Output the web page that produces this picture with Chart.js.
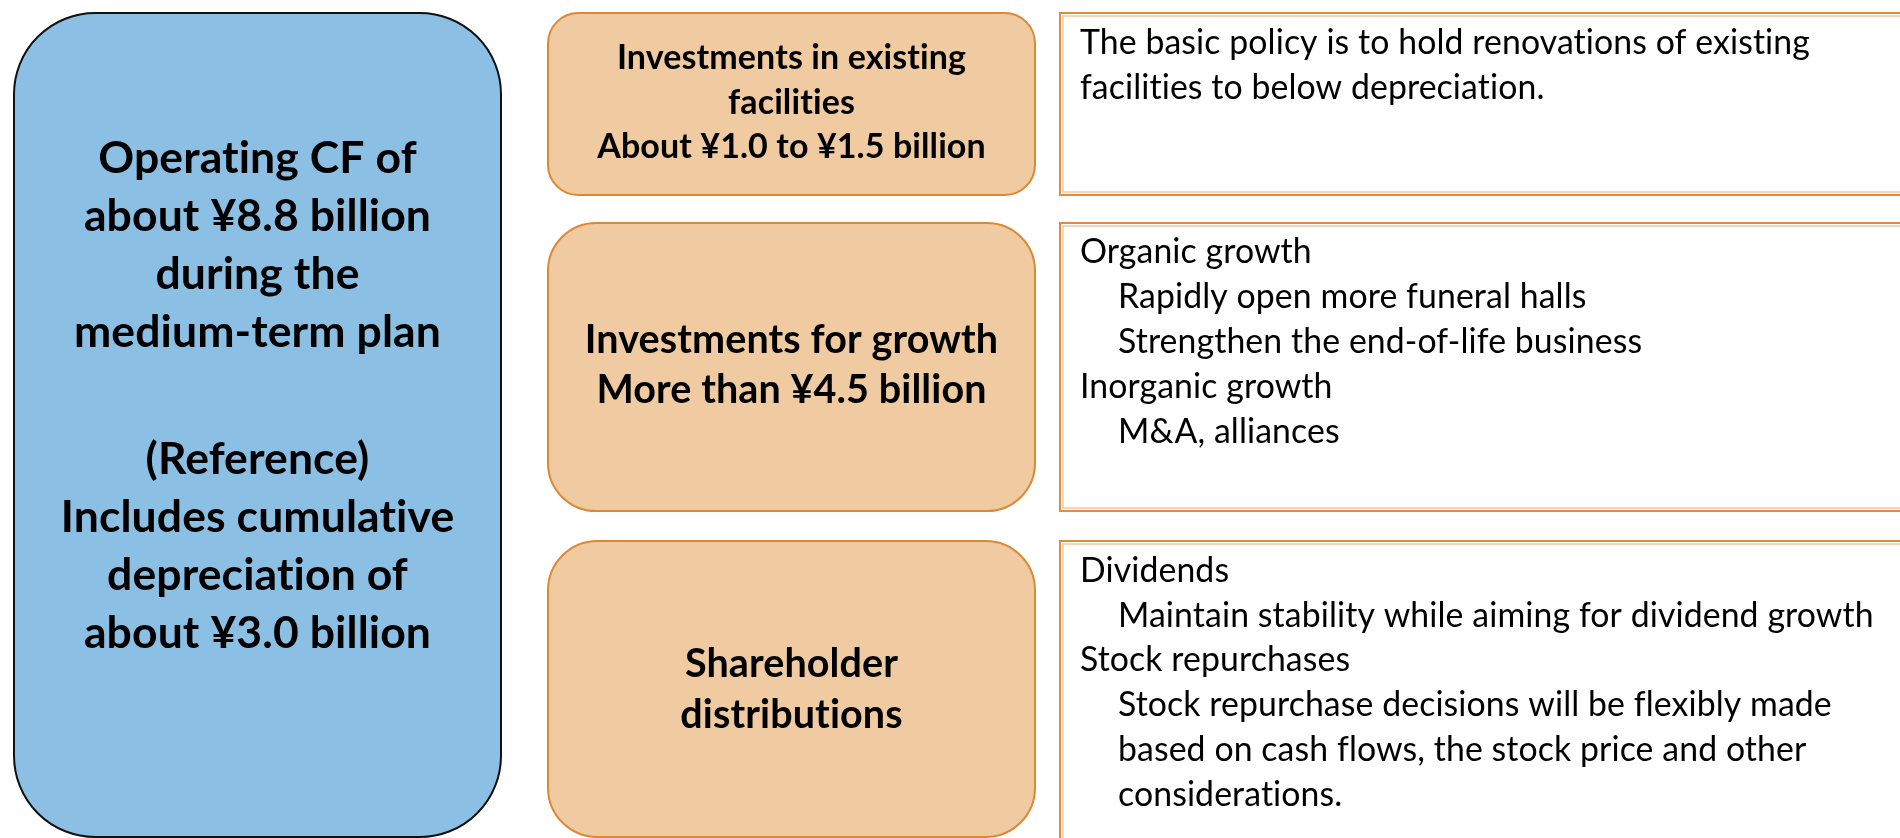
<!DOCTYPE html>
<html>
<head>
<meta charset="utf-8">
<script src="https://cdn.jsdelivr.net/npm/chart.js@4.4.1/dist/chart.umd.min.js"></script>
<style>
  html, body { margin: 0; padding: 0; background: #ffffff; }
  #wrap { width: 1900px; height: 838px; }
</style>
</head>
<body>
<div id="wrap"><canvas id="cashFlowChart"></canvas></div>
<script>
// --- Content (text of every box) ---
const sourceLines = ['Operating CF of', 'about ¥8.8 billion', 'during the', 'medium-term plan'];
const referenceLines = ['(Reference)', 'Includes cumulative', 'depreciation of', 'about ¥3.0 billion'];

const useTitles = [
  ['Investments in existing', 'facilities', 'About ¥1.0 to ¥1.5 billion'],
  ['Investments for growth', 'More than ¥4.5 billion'],
  ['Shareholder', 'distributions']
];

const policyLines = [
  ['The basic policy is to hold renovations of existing', 'facilities to below depreciation.'],
  ['Organic growth', 'Rapidly open more funeral halls', 'Strengthen the end-of-life business',
   'Inorganic growth', 'M&A, alliances'],
  ['Dividends', 'Maintain stability while aiming for dividend growth', 'Stock repurchases',
   'Stock repurchase decisions will be flexibly made', 'based on cash flows, the stock price and other',
   'considerations.']
];
// 0 = heading, 1 = indented item
const policyIndent = [
  [0, 0],
  [0, 1, 1, 0, 1],
  [0, 1, 0, 1, 1, 1]
];

// --- Layout (in scale units, the axes run 0..1900 by 0..838) ---
const sourceCol = [14, 501];
const useCol = [548, 1035];
const policyCol = [1060, 1914];
const rowSpans = [[13, 195], [223, 511], [541, 837]];
const policySpans = [[13, 195], [223, 511], [541, 850]];
const sourceSpan = [13, 837];

const blueFill = '#8bbfe3';
const orangeFill = '#f0caa1';
const orangeLine = '#dc8836';
const paleOrange = '#f3c9a2';

const font = 'Lato, "Open Sans", sans-serif';

const diagramPlugin = {
  id: 'diagram',
  afterDraw(chart) {
    const ctx = chart.ctx;
    const xs = chart.scales.x;
    const ys = chart.scales.y;
    const px = v => xs.getPixelForValue(v);
    const py = v => ys.getPixelForValue(v);

    function roundBox(xr, yr, fill, stroke, lw) {
      const x0 = px(xr[0]), x1 = px(xr[1]);
      const y0 = py(yr[0]), y1 = py(yr[1]);
      const w = x1 - x0, h = y1 - y0;
      const r = Math.min(w, h) * 0.1667;
      ctx.beginPath();
      ctx.roundRect(x0, y0, w, h, r);
      ctx.fillStyle = fill;
      ctx.fill();
      ctx.lineWidth = lw;
      ctx.strokeStyle = stroke;
      ctx.stroke();
    }

    function lines(list, cx, firstBase, step, size, bold) {
      ctx.font = (bold ? 'bold ' : '') + size + 'px ' + font;
      ctx.fillStyle = '#000000';
      ctx.textBaseline = 'alphabetic';
      list.forEach((t, i) => ctx.fillText(t, px(cx), py(firstBase + i * step)));
    }

    ctx.save();
    // a tiny spacing keeps Lato from joining "ti"/"fi" into ligatures
    ctx.letterSpacing = '0.1px';

    // source of funds (blue)
    roundBox(sourceCol, sourceSpan, blueFill, '#111111', 2);
    ctx.textAlign = 'center';
    const sc = (sourceCol[0] + sourceCol[1]) / 2;
    lines(sourceLines, sc, 173, 58, 44.5, true);
    lines(referenceLines, sc, 474, 58, 44.5, true);

    // uses of funds (orange)
    const uc = (useCol[0] + useCol[1]) / 2;
    const useBase = [[69, 44.5, 34], [353, 50, 39.5], [677, 51, 39.5]];
    rowSpans.forEach((span, i) => {
      roundBox(useCol, span, orangeFill, orangeLine, 2);
      ctx.textAlign = 'center';
      lines(useTitles[i], uc, useBase[i][0], useBase[i][1], useBase[i][2], true);
    });

    // policy text boxes (white, double orange border)
    const policyBase = [[54, 44.7], [263, 45], [582, 44.7]];
    policySpans.forEach((span, i) => {
      const x0 = px(policyCol[0]), x1 = px(policyCol[1]);
      const y0 = py(span[0]), y1 = py(span[1]);
      ctx.fillStyle = '#ffffff';
      ctx.fillRect(x0, y0, x1 - x0, y1 - y0);
      ctx.lineWidth = 2;
      ctx.strokeStyle = '#e08c3d';
      ctx.strokeRect(x0, y0, x1 - x0, y1 - y0);
      ctx.lineWidth = 1.5;
      ctx.strokeStyle = paleOrange;
      ctx.strokeRect(x0 + 3, y0 + 3, x1 - x0 - 6, y1 - y0 - 6);

      ctx.textAlign = 'left';
      ctx.font = '33.8px ' + font;
      ctx.fillStyle = '#000000';
      policyLines[i].forEach((t, j) => {
        const left = policyIndent[i][j] ? 1118 : 1080;
        ctx.fillText(t, px(left), py(policyBase[i][0] + j * policyBase[i][1]));
      });
    });

    ctx.restore();
  }
};

new Chart(document.getElementById('cashFlowChart'), {
  type: 'scatter',
  data: { datasets: [{ data: [], pointRadius: 0 }] },
  options: {
    responsive: true,
    maintainAspectRatio: false,
    animation: false,
    layout: { padding: 0 },
    scales: {
      x: { type: 'linear', min: 0, max: 1900, display: false },
      y: { type: 'linear', min: 0, max: 838, reverse: true, display: false }
    },
    plugins: { legend: { display: false }, tooltip: { enabled: false } }
  },
  plugins: [diagramPlugin]
});
</script>
</body>
</html>
